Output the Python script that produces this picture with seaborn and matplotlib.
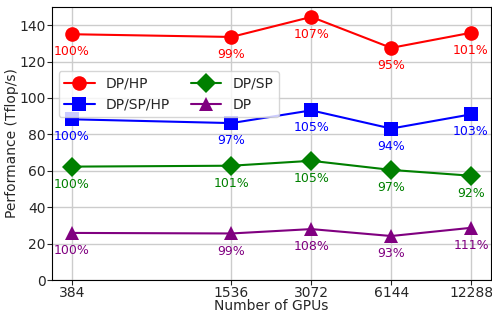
import pandas as pd
import numpy as np
import matplotlib
matplotlib.use('Agg')
import matplotlib.pyplot as plt
import seaborn as sns
from matplotlib.ticker import NullFormatter

# Data
gpus = [384, 1536, 3072, 6144, 12288]
configs = ['DP/HP', 'DP/SP/HP', 'DP/SP', 'DP']
perf_dp_hp = [135.0, 133.5, 144.5, 127.5, 135.8]
perf_dp_sp_hp = [88.3, 86.2, 93.2, 83.2, 91.0]
perf_dp_sp = [62.3, 62.8, 65.5, 60.5, 57.3]
perf_dp = [25.9, 25.6, 28.0, 24.2, 28.7]
pct_dp_hp = ['100%', '99%', '107%', '95%', '101%']
pct_dp_sp_hp = ['100%', '97%', '105%', '94%', '103%']
pct_dp_sp = ['100%', '101%', '105%', '97%', '92%']
pct_dp = ['100%', '99%', '108%', '93%', '111%']

perf = {'DP/HP': perf_dp_hp, 'DP/SP/HP': perf_dp_sp_hp,
        'DP/SP': perf_dp_sp, 'DP': perf_dp}
pcts = {'DP/HP': pct_dp_hp, 'DP/SP/HP': pct_dp_sp_hp,
        'DP/SP': pct_dp_sp, 'DP': pct_dp}
colors = {'DP/HP': 'red', 'DP/SP/HP': 'blue', 'DP/SP': 'green', 'DP': 'purple'}
markers = {'DP/HP': 'o', 'DP/SP/HP': 's', 'DP/SP': 'D', 'DP': '^'}

rows = []
for c in configs:
    for g, p in zip(gpus, perf[c]):
        rows.append({'GPUs': g, 'Perf': p, 'Config': c})
df = pd.DataFrame(rows)

sns.set_style('ticks')
plt.rcParams['font.family'] = ['DejaVu Sans']

fig, ax = plt.subplots(figsize=(4.92, 3.14), dpi=100)
ax.set_xscale('log', base=2)
sns.lineplot(data=df, x='GPUs', y='Perf', hue='Config', style='Config',
             hue_order=configs, style_order=configs, palette=colors,
             markers=markers, dashes=False, markersize=10.5, linewidth=1.5,
             markeredgewidth=0, ax=ax)

# percentage labels under each point
for c in configs:
    for g, p, t in zip(gpus, perf[c], pcts[c]):
        ax.annotate(t, (g, p), xytext=(0, -8), textcoords='offset points',
                    ha='center', va='top', color=colors[c], fontsize=9)

ax.set_xticks(gpus)
ax.set_xticklabels([str(g) for g in gpus])
ax.xaxis.set_minor_formatter(NullFormatter())
ax.set_ylim(0, 150)
ax.set_yticks(range(0, 141, 20))
ax.grid(True, color='#cccccc', linewidth=1)
for s in ax.spines.values():
    s.set_visible(True)
    s.set_color('black')
ax.tick_params(labelsize=10, length=3.5, pad=1)
ax.tick_params(which='minor', length=2)
ax.set_xlabel('Number of GPUs', fontsize=10, labelpad=-1)
ax.set_ylabel('Performance (Tflop/s)', fontsize=10, labelpad=0)
ax.legend(ncol=2, loc='upper left', bbox_to_anchor=(0.0, 0.79),
          fontsize=10, handlelength=2.2, columnspacing=1.5)

plt.subplots_adjust(left=0.105, right=0.998, top=0.978, bottom=0.108)
plt.savefig('out.png')
plt.close()
